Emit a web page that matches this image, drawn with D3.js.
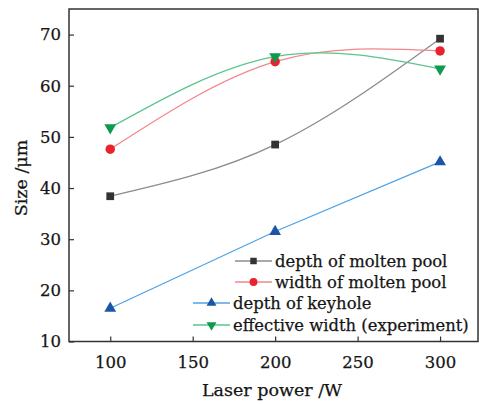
<!DOCTYPE html>
<html lang="en">
<head>
  <meta charset="UTF-8">
  <title>Size vs laser power</title>
  <script src="https://d3js.org/d3.v7.min.js"></script>
  <style>
    body { margin: 0; background: #fff; }
    svg { display: block; font-family: "DejaVu Serif", serif; }
    svg text { fill: #151515; stroke: #151515; stroke-width: 0.25; }
  </style>
</head>
<body>
  <svg id="chart" width="479" height="405"></svg>
  <script>
    // data
    const power = [100, 200, 300];
    const depthPool = [38.4, 48.5, 69.2];
    const widthPool = [47.6, 64.7, 66.8];
    const depthKeyhole = [16.5, 31.5, 45.1];
    const effWidth = [51.8, 65.7, 63.3];
    const xTicks = [100, 150, 200, 250, 300];
    const yTicks = [10, 20, 30, 40, 50, 60, 70];

    const series = [
      { name: "depth of molten pool", vals: depthPool, line: "#8c8c8c", mark: "#333333", sym: d3.symbolSquare, size: 60, curve: d3.curveNatural },
      { name: "width of molten pool", vals: widthPool, line: "#f2878c", mark: "#e8232e", sym: d3.symbolCircle, size: 70, curve: d3.curveNatural },
      { name: "depth of keyhole", vals: depthKeyhole, line: "#4fa3e6", mark: "#1a55a8", sym: d3.symbolTriangle, size: 60, curve: d3.curveLinear },
      { name: "effective width (experiment)", vals: effWidth, line: "#5cc48e", mark: "#0c9a4c", sym: d3.symbolTriangle, size: 60, curve: d3.curveNatural, flip: true }
    ];

    const svg = d3.select("#chart");
    const plotL = 69, plotR = 478, plotT = 9, plotB = 341.5;

    const x = d3.scaleLinear().domain([75, 323]).range([plotL, plotR]);
    const y = d3.scaleLinear().domain([10, 75]).range([plotB, plotT]);

    // frame
    svg.append("rect")
      .attr("x", plotL).attr("y", plotT)
      .attr("width", plotR - plotL).attr("height", plotB - plotT)
      .attr("fill", "none").attr("stroke", "#333").attr("stroke-width", 1.5);

    // axes with inward ticks
    const xAxis = svg.append("g")
      .attr("transform", `translate(0,${plotB})`)
      .call(d3.axisBottom(x).tickValues(xTicks).tickSizeInner(-5).tickSizeOuter(0).tickPadding(15));
    const yAxis = svg.append("g")
      .attr("transform", `translate(${plotL},0)`)
      .call(d3.axisLeft(y).tickValues(yTicks).tickSizeInner(-5).tickSizeOuter(0).tickPadding(8));
    [xAxis, yAxis].forEach(g => {
      g.select(".domain").remove();
      g.selectAll("line").attr("stroke", "#333").attr("stroke-width", 1.2);
      g.selectAll("text").attr("font-family", "DejaVu Serif, serif").attr("font-size", 16.5);
    });

    svg.append("text")
      .attr("x", 272).attr("y", 396)
      .attr("text-anchor", "middle").attr("font-size", 17.5)
      .text("Laser power /W");
    svg.append("text")
      .attr("transform", "translate(27,178) rotate(-90)")
      .attr("text-anchor", "middle").attr("font-size", 17.5)
      .text("Size /μm");

    // lines and markers
    series.forEach(s => {
      const pts = power.map((p, i) => [x(p), y(s.vals[i])]);
      svg.append("path")
        .attr("d", d3.line().curve(s.curve)(pts))
        .attr("fill", "none").attr("stroke", s.line).attr("stroke-width", 1.3);
      svg.selectAll(null).data(pts).join("path")
        .attr("transform", d => `translate(${d[0]},${d[1]})${s.flip ? " rotate(180)" : ""}`)
        .attr("d", d3.symbol().type(s.sym).size(s.size))
        .attr("fill", s.mark);
    });

    // legend (Origin style, first two rows shifted right)
    const legendRows = [
      { x0: 235, y0: 261 },
      { x0: 235, y0: 282 },
      { x0: 193, y0: 303 },
      { x0: 193, y0: 325 }
    ];
    series.forEach((s, i) => {
      const r = legendRows[i];
      const g = svg.append("g").attr("transform", `translate(${r.x0},${r.y0})`);
      g.append("line").attr("x1", 0).attr("x2", 37).attr("y1", 0).attr("y2", 0)
        .attr("stroke", s.line).attr("stroke-width", 1.3);
      g.append("path")
        .attr("transform", `translate(18.5,0)${s.flip ? " rotate(180)" : ""}`)
        .attr("d", d3.symbol().type(s.sym).size(s.size * 0.7))
        .attr("fill", s.mark);
      g.append("text").attr("x", 40).attr("y", 5.5)
        .attr("font-size", 16.4)
        .text(s.name);
    });
  </script>
</body>
</html>
